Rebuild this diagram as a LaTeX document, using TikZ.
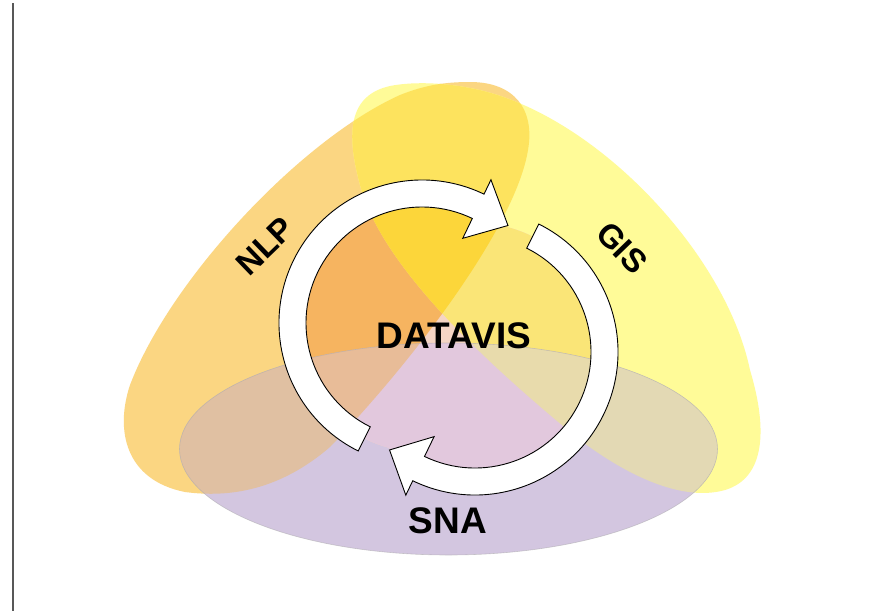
\documentclass[tikz,border=0pt]{standalone}
\usepackage{fontspec}
\setmainfont{Liberation Sans}
\usetikzlibrary{calc}
\definecolor{linegray}{RGB}{88,88,88}
% outside colours
\definecolor{nlpO}{RGB}{251,214,130}
\definecolor{gisO}{RGB}{255,251,152}
\definecolor{snaO}{RGB}{211,198,224}
\definecolor{nlpgisO}{RGB}{253,227,94}
\definecolor{nlpsnaO}{RGB}{224,192,162}
\definecolor{gissnaO}{RGB}{227,217,180}
% inside colours
\definecolor{baseI}{RGB}{245,213,197}
\definecolor{nlpI}{RGB}{246,180,96}
\definecolor{gisI}{RGB}{250,229,119}
\definecolor{nlpgisI}{RGB}{252,214,58}
\definecolor{snaI}{RGB}{226,200,221}
\definecolor{nlpsnaI}{RGB}{232,188,152}
\definecolor{gissnaI}{RGB}{232,219,172}
\newcommand\NLPshape{(470,-82) .. controls (515,-82) and (535,-110) .. (528,-150) .. controls (515,-230) and (405,-370) .. (330,-447) .. controls (280,-490) and (230,-498) .. (185,-492) .. controls (125,-480) and (115,-430) .. (130,-385) .. controls (170,-280) and (300,-140) .. (400,-95) .. controls (425,-85) and (445,-82) .. (470,-82) -- cycle}
\newcommand\GISshape{(390,-86) .. controls (350,-95) and (345,-130) .. (360,-185) .. controls (380,-260) and (470,-350) .. (580,-440) .. controls (640,-485) and (690,-500) .. (725,-490) .. controls (765,-478) and (768,-430) .. (750,-370) .. controls (725,-250) and (590,-110) .. (470,-88) .. controls (440,-82) and (410,-82) .. (390,-86) -- cycle}
\newcommand\SNAshape{(448.5,-449) ellipse [x radius=269pt, y radius=106pt]}
\begin{document}
\begin{tikzpicture}[x=1pt,y=1pt,
  arrowband/.style={fill=white, draw=black, line width=0.9pt, line join=miter},
  lbl/.style={inner sep=0pt, font=\fontsize{33}{33}\selectfont\bfseries},
  biglbl/.style={inner sep=0pt, font=\fontsize{37}{37}\selectfont\bfseries}]
\useasboundingbox (0,0) rectangle (876,-611);
\fill[white] (0,0) rectangle (876,-611);
\draw[line width=2pt, linegray] (13,-3) -- (13,-611);

% ---- outer regions
\fill[nlpO] \NLPshape;
\fill[gisO] \GISshape;
\fill[snaO] \SNAshape;
\begin{scope}\clip \NLPshape; \fill[nlpgisO] \GISshape; \end{scope}
\begin{scope}\clip \NLPshape; \fill[nlpsnaO] \SNAshape; \end{scope}
\begin{scope}\clip \GISshape; \fill[gissnaO] \SNAshape; \end{scope}

% ---- inner disc regions
\coordinate (A1) at (422,-323);
\coordinate (A2) at (475,-352);
\begin{scope}
  \clip (A1) circle[radius=129pt] (A2) circle[radius=129pt];
  \fill[baseI] (0,0) rectangle (876,-611);
  \fill[nlpI] \NLPshape;
  \fill[gisI] \GISshape;
  \fill[snaI] \SNAshape;
  \begin{scope}\clip \NLPshape; \fill[nlpgisI] \GISshape; \end{scope}
  \begin{scope}\clip \NLPshape; \fill[nlpsnaI] \SNAshape; \end{scope}
  \begin{scope}\clip \GISshape; \fill[gissnaI] \SNAshape; \end{scope}
\end{scope}
\draw[black!35, line width=0.6pt, opacity=0.5] \SNAshape;

% ---- circular arrows
\draw[arrowband] ($(A1)+(243.5:143pt)$) arc[start angle=243.5, end angle=64.3, radius=143pt]
  -- ($(A1)+(64.3:159pt)$) -- ($(A1)+(48.6:130pt)$) -- ($(A1)+(64.3:94pt)$)
  -- ($(A1)+(64.3:116pt)$) arc[start angle=64.3, end angle=243.5, radius=116pt] -- cycle;
\draw[arrowband] ($(A2)+(63.5:143pt)$) arc[start angle=63.5, end angle=-115.8, radius=143pt]
  -- ($(A2)+(-115.8:159pt)$) -- ($(A2)+(-131.1:130pt)$) -- ($(A2)+(-115.8:94pt)$)
  -- ($(A2)+(-115.8:116pt)$) arc[start angle=-115.8, end angle=63.5, radius=116pt] -- cycle;

% ---- labels
\node[biglbl] (datavis) at (454,-336) {DATAVIS};
\node[biglbl] (sna) at (448,-521) {SNA};
\node[lbl, rotate=44] (nlp) at (265,-246) {NLP};
\node[lbl, rotate=-46] (gis) at (622,-248) {GIS};
\end{tikzpicture}
\end{document}
